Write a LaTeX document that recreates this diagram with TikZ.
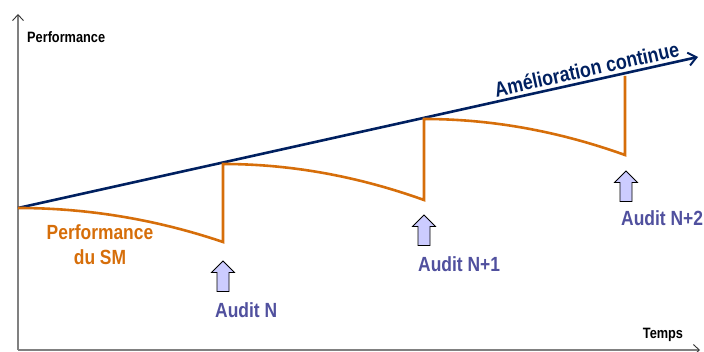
\documentclass[tikz,border=0pt]{standalone}
\usepackage{fontspec}
\setmainfont{Liberation Sans}[FakeStretch=0.85]
\usetikzlibrary{arrows.meta,calc}
\definecolor{navy}{RGB}{0,32,96}
\definecolor{smorange}{RGB}{214,110,10}
\definecolor{auditblue}{RGB}{80,80,158}
\definecolor{arrowfill}{RGB}{204,204,255}
\definecolor{axisgray}{RGB}{128,128,128}
\begin{document}
\begin{tikzpicture}[x=1pt,y=-1pt,
  axisline/.style={draw=axisgray,line width=1.5pt},
  axistip/.style={-{Straight Barb[length=6pt,width=11pt,line width=0.9pt,color=black!80]}},
  axislabel/.style={font=\bfseries\fontsize{15}{17}\selectfont,text=black,inner sep=0pt},
  perfline/.style={draw=smorange,line width=2.6pt,line join=miter},
  progline/.style={draw=navy,line width=2.6pt,-{Straight Barb[length=8pt,width=13pt,line width=2pt]}},
  auditlabel/.style={font=\bfseries\fontsize{20.5}{24}\selectfont,text=auditblue,inner sep=0pt},
  blockarrow/.style={fill=arrowfill,draw=black,line width=0.8pt,line join=miter}]
\useasboundingbox (0,0) rectangle (704,352);
% axes
\coordinate (O) at (18,350);
\coordinate (Ytop) at (18,14);
\coordinate (Xend) at (700,350);
\draw[axisline,axistip] (O) -- (Ytop);
\draw[axisline,axistip] (O) -- (Xend);
\node[axislabel,anchor=west] (ylab) at (27,37) {Performance};
\node[axislabel] (xlab) at (663,335) {Temps};
% continuous improvement line
\coordinate (S) at (18,208);
\coordinate (E) at (698,57);
\draw[progline] (S) -- (E) node[pos=0.84,sloped,above=2pt,font=\bfseries\fontsize{21}{24}\selectfont,text=navy,inner sep=1pt] (amel) {Amélioration continue};
% SM performance
\coordinate (a1) at (223,242);
\coordinate (b1) at (223,164);
\coordinate (a2) at (424,200);
\coordinate (b2) at (424,119);
\coordinate (a3) at (625,155);
\coordinate (b3) at (625,76);
\draw[perfline] (S) .. controls (86,208) and (155,219) .. (a1) -- (b1)
  .. controls (290,164) and (357,176) .. (a2) -- (b2)
  .. controls (491,119) and (558,131) .. (a3) -- (b3);
\node[font=\bfseries\fontsize{20.5}{25}\selectfont,text=smorange,align=center,inner sep=0pt] (perf) at (100,245) {Performance\\du SM};
% audit arrows
\foreach \n/\cx/\ty in {1/223/261, 2/424/215, 3/626/171}{
  \draw[blockarrow] (\cx,\ty) -- ++(11.5,11.5) -- ++(-5.5,0) -- ++(0,19) -- ++(-12,0) -- ++(0,-19) -- ++(-5.5,0) -- cycle;
}
\node[auditlabel,anchor=west] (au1) at (215,310) {Audit N};
\node[auditlabel,anchor=west] (au2) at (418,264) {Audit N+1};
\node[auditlabel,anchor=west] (au3) at (621,218) {Audit N+2};
\end{tikzpicture}
\end{document}
